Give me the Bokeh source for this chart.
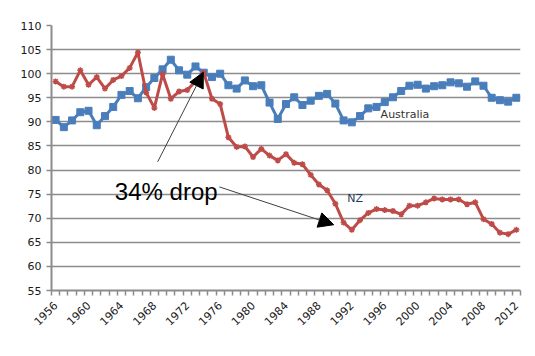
import math
from bokeh.plotting import figure
from bokeh.models import Range1d, FixedTicker, Label, Arrow, NormalHead
from bokeh.embed import file_html
from bokeh.resources import INLINE

years = list(range(1956, 2013))
australia = [
    90.4, 88.9, 90.3, 92.0, 92.3, 89.3, 91.2, 93.1, 95.6, 96.4,
    94.9, 97.2, 99.1, 100.9, 102.9, 100.7, 99.8, 101.5, 100.2, 99.3,
    100.0, 97.6, 96.9, 98.6, 97.4, 97.6, 94.0, 90.6, 93.7, 95.1,
    93.5, 94.4, 95.4, 95.8, 93.8, 90.3, 89.9, 91.2, 92.8, 93.1,
    94.1, 95.1, 96.4, 97.5, 97.7, 96.9, 97.4, 97.6, 98.2, 98.0,
    97.3, 98.4, 97.5, 95.0, 94.5, 94.2, 95.0,
]
nz = [
    98.4, 97.3, 97.3, 100.7, 97.7, 99.3, 96.9, 98.7, 99.5, 101.2,
    104.4, 96.1, 92.9, 99.9, 94.8, 96.3, 96.6, 98.4, 100.2, 94.8,
    93.7, 86.8, 84.8, 84.9, 82.7, 84.4, 83.0, 82.0, 83.3, 81.5,
    81.2, 79.0, 77.0, 75.8, 73.0, 69.1, 67.6, 69.6, 71.1, 71.9,
    71.7, 71.5, 70.8, 72.6, 72.6, 73.3, 74.1, 73.9, 73.9, 73.9,
    72.9, 73.3, 69.8, 68.8, 67.0, 66.7, 67.6,
]
x_tick_years = list(range(1956, 2013, 4))
y_ticks = list(range(55, 111, 5))

BLUE = "#4a7ebb"
RED = "#be4b48"
GRAY = "#8c8c8c"

p = figure(width=532, height=347,
           x_range=Range1d(1955.5, 2012.5), y_range=Range1d(55, 110),
           output_backend="svg", toolbar_location=None,
           min_border_left=51, min_border_right=12,
           min_border_top=25, min_border_bottom=57)
p.outline_line_color = None
p.background_fill_color = "white"
p.border_fill_color = "white"

p.xgrid.grid_line_color = None
p.ygrid.ticker = FixedTicker(ticks=y_ticks)
p.ygrid.grid_line_color = GRAY
p.ygrid.grid_line_width = 1.5

# y axis
p.yaxis.ticker = FixedTicker(ticks=y_ticks)
p.yaxis.axis_line_color = GRAY
p.yaxis.axis_line_width = 2
p.yaxis.major_tick_line_color = GRAY
p.yaxis.major_tick_line_width = 1.5
p.yaxis.major_tick_out = 5
p.yaxis.major_tick_in = 0
p.yaxis.minor_tick_line_color = None
p.yaxis.major_label_standoff = 5

# x axis
p.xaxis.ticker = FixedTicker(ticks=x_tick_years,
                             minor_ticks=[y - 0.5 for y in years] + [years[-1] + 0.5])
p.xaxis.axis_line_color = GRAY
p.xaxis.axis_line_width = 2
p.xaxis.major_tick_line_color = None
p.xaxis.major_tick_out = 5
p.xaxis.major_tick_in = 0
p.xaxis.minor_tick_line_color = GRAY
p.xaxis.minor_tick_line_width = 1.5
p.xaxis.minor_tick_out = 5
p.xaxis.minor_tick_in = 0
p.xaxis.major_label_orientation = math.pi / 4
p.xaxis.major_label_standoff = 8

for ax in (p.xaxis, p.yaxis):
    ax.major_label_text_font = "DejaVu Sans"
    ax.major_label_text_font_size = "11px"
    ax.major_label_text_color = "#1a1a1a"

# series
p.line(years, australia, color=BLUE, line_width=3)
p.scatter(years, australia, marker="square", size=7, color=BLUE)
p.line(years, nz, color=RED, line_width=3)
p.scatter(years, nz, marker="asterisk", size=6, line_color=RED, line_width=1.5)

# annotations
p.add_layout(Arrow(end=NormalHead(size=15, fill_color="black", line_color="black"),
                   x_start=1968.4, y_start=81.7, x_end=1973.95, y_end=100.3,
                   line_color="#404040", line_width=1))
p.add_layout(Arrow(end=NormalHead(size=15, fill_color="black", line_color="black"),
                   x_start=1975.9, y_start=76.5, x_end=1989.8, y_end=68.65,
                   line_color="#404040", line_width=1))
p.add_layout(Label(x=1963.2, y=75.5, text="34% drop", text_font="Liberation Sans",
                   text_font_size="24px", text_baseline="alphabetic", text_color="black"))
p.add_layout(Label(x=1995.5, y=91.5, text="Australia", text_font="DejaVu Sans",
                   text_font_size="11px", text_baseline="middle", text_color="#333333"))
p.add_layout(Label(x=1991.45, y=74.0, text="NZ", text_font="DejaVu Sans",
                   text_font_size="11px", text_baseline="middle", text_color="#1f3b5a"))

open("out.html", "w").write(file_html(p, INLINE))
